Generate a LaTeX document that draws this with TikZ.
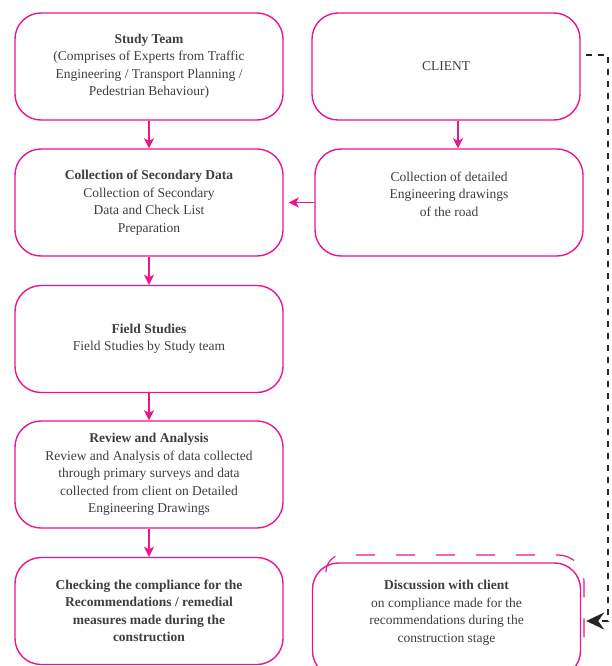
\documentclass[tikz,border=0pt]{standalone}
\usepackage{fontspec}
\setmainfont{Liberation Serif}
\usepackage{xcolor}
\usetikzlibrary{arrows.meta,positioning}
\definecolor{flowpink}{RGB}{233,22,140}
\definecolor{txtgray}{RGB}{62,62,62}

\begin{document}
\begin{tikzpicture}[x=1pt,y=1pt,font=\fontsize{13.5}{17.5}\selectfont,
  stepbox/.style={draw=flowpink,line width=1.4pt,rounded corners=26pt,minimum width=268pt,minimum height=107pt,align=center,text=txtgray,inner sep=0pt},
  flow/.style={draw=flowpink,line width=1.4pt,-{Stealth[length=10pt,width=10pt,inset=2.5pt]}},
  feedback/.style={draw=black!85,line width=2pt,dash pattern=on 6pt off 6pt,-{Stealth[length=18pt,width=17pt,inset=6pt]}}]
\useasboundingbox (0,0) rectangle (611,-666);
\clip (0,0) rectangle (611,-666);
\node[stepbox] (team) at (149,-66.5) {\textbf{Study Team}\\(Comprises of Experts from Traffic\\Engineering / Transport Planning /\\Pedestrian Behaviour)};
\node[stepbox] (client) at (446,-66.5) {CLIENT};
\node[stepbox] (secondary) at (149,-202.5) {\textbf{Collection of Secondary Data}\\Collection of Secondary\\Data and Check List\\Preparation};
\node[stepbox] (detail) at (449,-202.5) {Collection of detailed\\Engineering drawings\\of the road\\\mbox{}};
\node[stepbox] (field) at (149,-339) {\textbf{Field Studies}\\Field Studies by Study team};
\node[stepbox] (review) at (149,-474.5) {\textbf{Review and Analysis}\\Review and Analysis of data collected\\through primary surveys and data\\collected from client on Detailed\\Engineering Drawings};
\node[stepbox] (check) at (149,-611) {\textbf{Checking the compliance for the}\\\textbf{Recommendations / remedial}\\\textbf{measures made during the}\\\textbf{construction}};
\node[stepbox,minimum height=114pt] (discuss) at (446.5,-620) {\textbf{Discussion with client}\\on compliance made for the\\recommendations during the\\construction stage\\\mbox{}};
\draw[flowpink,line width=1.2pt,dash pattern=on 19pt off 21pt] (326,-572) to[out=90,in=180] (342,-555) [rounded corners=26pt] -- (584,-555) -- (584,-655);
\draw[flow] (team) -- (secondary);
\draw[flow] (secondary) -- (field);
\draw[flow] (field) -- (review);
\draw[flow] (review) -- (check);
\draw[flow] ([xshift=12pt]client.south) -- ([xshift=9pt]detail.north);
\draw[flow,shorten >=5pt] (detail.west) -- (secondary.east);
\draw[feedback] ([xshift=5pt,yshift=11pt]client.east) -| ([xshift=27pt,yshift=-1pt]discuss.east) -- ([xshift=5pt,yshift=-1pt]discuss.east);
\end{tikzpicture}
\end{document}
